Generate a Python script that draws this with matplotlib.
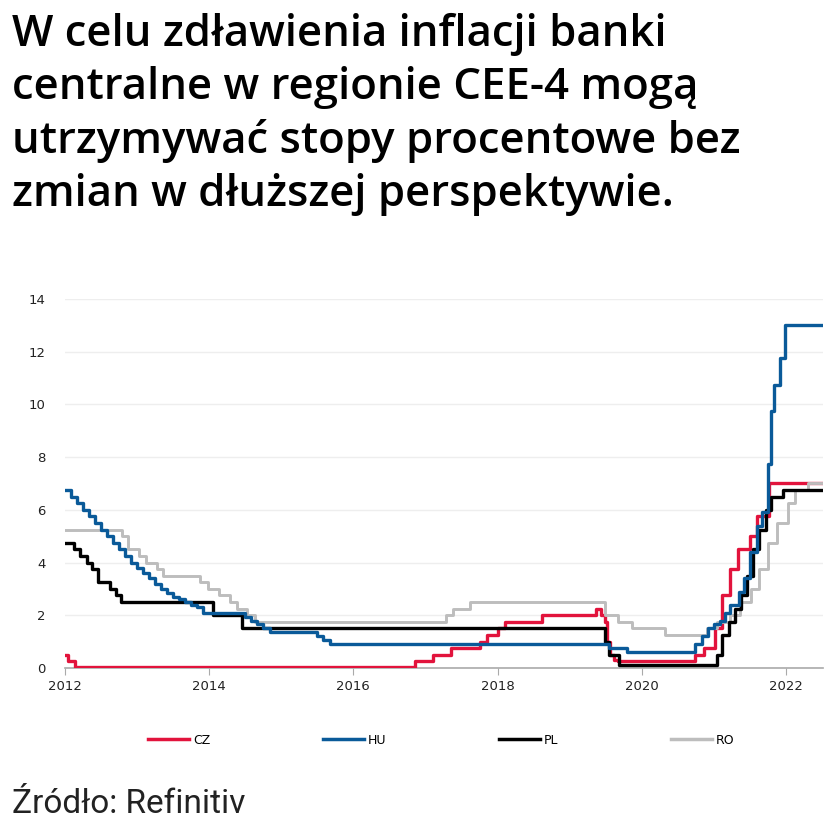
import matplotlib
matplotlib.use("Agg")
import matplotlib.pyplot as plt
from matplotlib.lines import Line2D

# step series, dates as decimal years (as drawn on the chart)
cz_dates = [2012.00, 2012.04, 2012.14, 2016.85, 2017.11, 2017.36, 2017.76, 2017.85,
            2018.01, 2018.10, 2018.61, 2019.37, 2019.44, 2019.49, 2019.52, 2019.56,
            2019.62, 2019.67, 2020.74, 2020.87, 2021.01, 2021.11, 2021.22, 2021.34,
            2021.50, 2021.60, 2021.76, 2022.51]
cz_vals = [0.5, 0.25, 0.05, 0.25, 0.5, 0.75, 1.0, 1.25,
           1.5, 1.75, 2.0, 2.25, 2.0, 1.75, 1.0, 0.5,
           0.3, 0.25, 0.5, 0.75, 1.5, 2.75, 3.75, 4.5,
           5.0, 5.75, 7.0, 7.0]

hu_dates = [2012.00, 2012.08, 2012.17, 2012.25, 2012.33, 2012.42, 2012.50, 2012.58,
            2012.67, 2012.75, 2012.83, 2012.92, 2013.00, 2013.08, 2013.17, 2013.25,
            2013.33, 2013.42, 2013.50, 2013.58, 2013.67, 2013.75, 2013.83, 2013.92,
            2014.50, 2014.58, 2014.67, 2014.75, 2014.84, 2015.50, 2015.58, 2015.67,
            2019.55, 2019.79, 2020.74, 2020.83, 2020.92, 2021.00, 2021.08, 2021.16,
            2021.23, 2021.35, 2021.42, 2021.50, 2021.60, 2021.67, 2021.75, 2021.79,
            2021.84, 2021.92, 2021.99, 2022.51]
hu_vals = [6.75, 6.5, 6.25, 6.0, 5.75, 5.5, 5.25, 5.0,
           4.75, 4.5, 4.25, 4.0, 3.8, 3.6, 3.4, 3.2,
           3.0, 2.85, 2.7, 2.6, 2.5, 2.4, 2.3, 2.1,
           1.95, 1.8, 1.65, 1.5, 1.35, 1.2, 1.05, 0.9,
           0.75, 0.6, 0.9, 1.2, 1.5, 1.65, 1.8, 2.1,
           2.4, 2.9, 3.4, 4.4, 5.4, 5.9, 7.75, 9.75,
           10.75, 11.75, 13.0, 13.0]

pl_dates = [2012.00, 2012.13, 2012.21, 2012.30, 2012.38, 2012.46, 2012.63, 2012.71,
            2012.78, 2014.05, 2014.45, 2019.49, 2019.55, 2019.69, 2021.04, 2021.12,
            2021.21, 2021.29, 2021.38, 2021.46, 2021.54, 2021.62, 2021.72, 2021.79,
            2021.96, 2022.51]
pl_vals = [4.75, 4.5, 4.25, 4.0, 3.75, 3.25, 3.0, 2.75,
           2.5, 2.0, 1.5, 1.0, 0.5, 0.1, 0.5, 1.25,
           1.75, 2.25, 2.75, 3.5, 4.5, 5.25, 6.0, 6.5,
           6.75, 6.75]

ro_dates = [2012.00, 2012.79, 2012.88, 2013.02, 2013.13, 2013.27, 2013.36, 2013.87,
            2013.99, 2014.13, 2014.29, 2014.38, 2014.52, 2014.64, 2017.29, 2017.38,
            2017.62, 2019.49, 2019.67, 2019.86, 2020.32, 2020.90, 2021.05, 2021.22,
            2021.36, 2021.52, 2021.62, 2021.75, 2021.87, 2022.03, 2022.12, 2022.31,
            2022.51]
ro_vals = [5.25, 5.0, 4.5, 4.25, 4.0, 3.75, 3.5, 3.25,
           3.0, 2.75, 2.5, 2.25, 2.0, 1.75, 2.0, 2.25,
           2.5, 2.0, 1.75, 1.5, 1.25, 1.5, 1.75, 2.0,
           2.5, 3.0, 3.75, 4.75, 5.5, 6.25, 6.75, 7.0,
           7.0]

labels = ["CZ", "HU", "PL", "RO"]
colors = {"CZ": "#e2133c", "HU": "#0a5a99", "PL": "#000000", "RO": "#bdbdbd"}
years = [2012, 2014, 2016, 2018, 2020, 2022]
yticks = [0, 2, 4, 6, 8, 10, 12, 14]

title = ("W celu zdławienia inflacji banki\n"
         "centralne w regionie CEE-4 mogą\n"
         "utrzymywać stopy procentowe bez\n"
         "zmian w dłuższej perspektywie.")

fig = plt.figure(figsize=(8.31, 8.30), dpi=100)
ax = fig.add_axes([0.0782, 0.1952, 0.9118, 0.4446])

ax.step(cz_dates, cz_vals, where="post", color=colors["CZ"], lw=2.4, zorder=3)
ax.step(ro_dates, ro_vals, where="post", color=colors["RO"], lw=2.1, zorder=4)
ax.step(pl_dates, pl_vals, where="post", color=colors["PL"], lw=2.4, zorder=5)
ax.step(hu_dates, hu_vals, where="post", color=colors["HU"], lw=2.4, zorder=6)

ax.set_xlim(2012, 2022.51)
ax.set_ylim(0, 14)
ax.set_xticks(years)
ax.set_xticklabels([str(y) for y in years], fontsize=9.5, color="#222222")
ax.set_yticks(yticks)
ax.set_yticklabels([str(v) for v in yticks], fontsize=9.5, color="#222222")
ax.grid(axis="y", color="#eeeeee", lw=1.0)
ax.set_axisbelow(True)
for s in ["top", "right", "left"]:
    ax.spines[s].set_visible(False)
ax.spines["bottom"].set_color("#aaaaaa")
ax.spines["bottom"].set_linewidth(1.2)
ax.tick_params(axis="x", length=5, color="#aaaaaa", pad=4)
ax.tick_params(axis="y", length=0, pad=14)

handles = [Line2D([], [], color=colors[k], lw=2.5) for k in labels]
fig.legend(handles, labels, loc="center", bbox_to_anchor=(0.531, 1 - 740 / 830),
           ncol=4, frameon=False, fontsize=9, handlelength=3.3, handletextpad=0.3,
           columnspacing=9.0)

fig.text(0.0145, 1 - 13 / 830, title, ha="left", va="top", fontsize=31.5,
         fontfamily="Open Sans", fontweight="semibold", linespacing=1.3, color="#000000")
fig.text(0.0145, 1 - 804 / 830, "Źródło: Refinitiv", ha="left", va="center",
         fontsize=24, fontfamily="Roboto", fontweight="normal", color="#222222")

fig.savefig("out.png", dpi=100)
